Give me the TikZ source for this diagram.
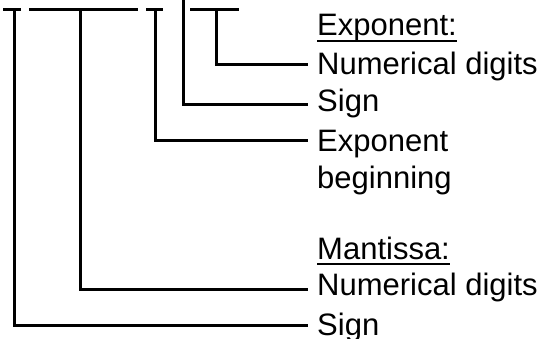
\documentclass[tikz,border=0pt]{standalone}
\usepackage{fontspec}
\setmainfont{Liberation Sans}
\begin{document}
\begin{tikzpicture}[x=1pt,y=-1pt,
  lbl/.style={anchor=base west, inner sep=0pt, font=\fontsize{31}{37}\selectfont},
  bar/.style={line width=3pt},
  conn/.style={line width=3pt, line join=miter},
  uline/.style={line width=1.6pt}]
\useasboundingbox (0,0) rectangle (551,338);
% labels
\node[lbl] (hexp) at (317,35) {Exponent:};
\node[lbl] (edig) at (317,74) {Numerical digits};
\node[lbl] (esign) at (317,111) {Sign};
\node[lbl] (ebeg) at (317,151) {Exponent};
\node[lbl] (ebeg2) at (317,188) {beginning};
\node[lbl] (hman) at (317,259) {Mantissa:};
\node[lbl] (mdig) at (317,295) {Numerical digits};
\node[lbl] (msign) at (317,335) {Sign};
\draw[uline] ([yshift=-6pt]hexp.base west) -- ([yshift=-6pt]hexp.base east);
\draw[uline] ([yshift=-5pt]hman.base west) -- ([yshift=-5pt]hman.base east);
% top bars
\coordinate (b1l) at (3,9);   \coordinate (b1r) at (21,9);
\coordinate (b2l) at (29,9);  \coordinate (b2r) at (138,9);
\coordinate (b3l) at (146,9); \coordinate (b3r) at (163,9);
\coordinate (b4l) at (190,9); \coordinate (b4r) at (239,9);
\draw[bar] (b1l) -- (b1r);
\draw[bar] (b2l) -- (b2r);
\draw[bar] (b3l) -- (b3r);
\draw[bar] (b4l) -- (b4r);
% connector start points
\coordinate (s1) at (14,9);
\coordinate (s2) at (80,9);
\coordinate (s3) at (155,9);
\coordinate (s4) at (183,0);
\coordinate (s5) at (216,9);
% connector end points
\coordinate (e5) at (308,64);
\coordinate (e4) at (308,104);
\coordinate (e3) at (308,140);
\coordinate (e2) at (308,289);
\coordinate (e1) at (308,325);
\draw[conn] (s5) |- (e5);
\draw[conn] (s4) |- (e4);
\draw[conn] (s3) |- (e3);
\draw[conn] (s2) |- (e2);
\draw[conn] (s1) |- (e1);
\end{tikzpicture}
\end{document}
